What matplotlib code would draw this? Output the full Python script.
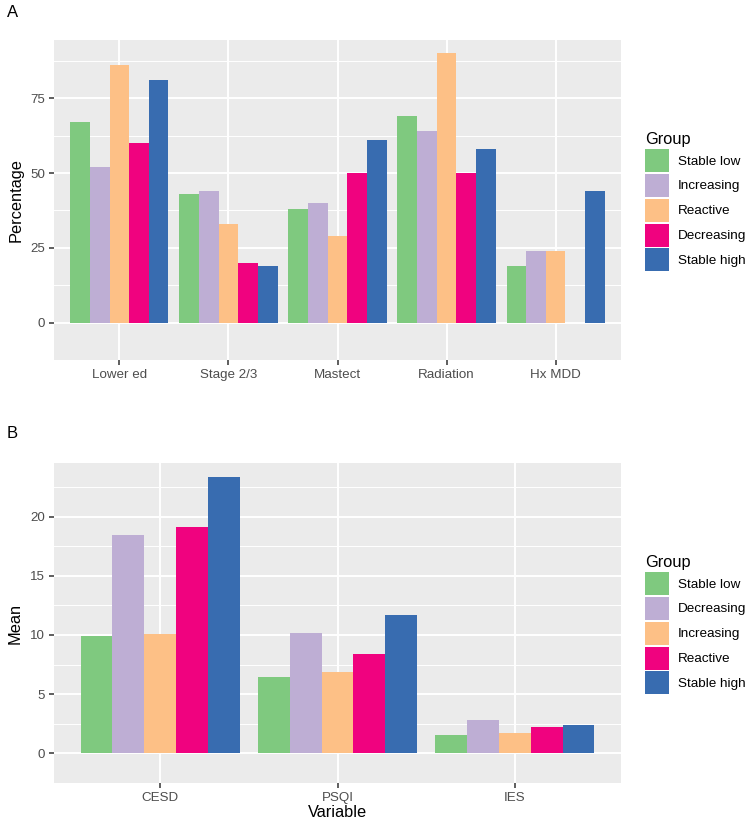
import numpy as np
import matplotlib.pyplot as plt
from matplotlib.patches import Patch

plt.rcParams['font.family'] = ['Liberation Sans', 'DejaVu Sans']

# --- Panel A data: percentage by group ---
a_categories = ['Lower ed', 'Stage 2/3', 'Mastect', 'Radiation', 'Hx MDD']
a_groups = ['Stable low', 'Increasing', 'Reactive', 'Decreasing', 'Stable high']
a_stable_low = [67, 43, 38, 69, 19]
a_increasing = [52, 44, 40, 64, 24]
a_reactive = [86, 33, 29, 90, 24]
a_decreasing = [60, 20, 50, 50, 0]
a_stable_high = [81, 19, 61, 58, 44]
a_yticks = [0, 25, 50, 75]

# --- Panel B data: mean by group ---
b_categories = ['CESD', 'PSQI', 'IES']
b_groups = ['Stable low', 'Decreasing', 'Increasing', 'Reactive', 'Stable high']
b_stable_low = [9.9, 6.45, 1.57]
b_decreasing = [18.4, 10.15, 2.8]
b_increasing = [10.05, 6.85, 1.75]
b_reactive = [19.1, 8.35, 2.2]
b_stable_high = [23.35, 11.65, 2.37]
b_yticks = [0, 5, 10, 15, 20]

colors = ['#7FC97F', '#BEAED4', '#FDC086', '#F0027F', '#386CB0']

W, H = 750, 825
fig = plt.figure(figsize=(W / 100, H / 100), dpi=100)


def px_axes(left, top, right, bottom):
    return fig.add_axes([left / W, 1 - bottom / H, (right - left) / W, (bottom - top) / H])


def gg_bars(ax, categories, series, yticks, ylabel, xlabel=None):
    n = len(series)
    x = np.arange(1, len(categories) + 1)
    width = 0.9 / n
    for i, vals in enumerate(series):
        ax.bar(x - 0.45 + width * (i + 0.5), vals, width=width, color=colors[i],
               linewidth=0, zorder=3)
    ymax = max(max(s) for s in series)
    ax.set_ylim(-0.05 * ymax, 1.05 * ymax)
    ax.set_xlim(0.4, len(categories) + 0.6)
    ax.set_facecolor('#EBEBEB')
    ax.set_xticks(x)
    ax.set_xticklabels(categories)
    ax.set_yticks(yticks)
    step = yticks[1] - yticks[0]
    minor = [t + step / 2 for t in yticks] + [yticks[0] - step / 2]
    ax.set_yticks(minor, minor=True)
    ax.grid(True, which='major', color='white', linewidth=1.4, zorder=1)
    ax.grid(True, which='minor', axis='y', color='white', linewidth=0.7, zorder=1)
    ax.set_axisbelow(True)
    for s in ax.spines.values():
        s.set_visible(False)
    ax.tick_params(which='major', length=3.5, width=1.1, color='#333333',
                   labelsize=9.6, labelcolor='#4D4D4D', pad=3)
    ax.tick_params(which='minor', length=0)
    ax.set_ylabel(ylabel, fontsize=11.8, labelpad=5)
    if xlabel:
        ax.set_xlabel(xlabel, fontsize=11.8, labelpad=1)


def gg_legend(groups, x, y):
    handles = [Patch(facecolor=c, edgecolor='none') for c in colors]
    leg = fig.legend(handles, groups, title='Group', loc='upper left',
                     bbox_to_anchor=(x / W, 1 - y / H), frameon=False,
                     fontsize=9.7, title_fontsize=11.8, handlelength=1.78,
                     handleheight=2.25, handletextpad=0.65, labelspacing=0.14,
                     borderpad=0, borderaxespad=0, alignment='left')
    return leg


ax_a = px_axes(54, 40, 621, 360)
gg_bars(ax_a, a_categories,
        [a_stable_low, a_increasing, a_reactive, a_decreasing, a_stable_high],
        a_yticks, 'Percentage')
gg_legend(a_groups, 645, 132)

ax_b = px_axes(54, 463, 621, 783)
gg_bars(ax_b, b_categories,
        [b_stable_low, b_decreasing, b_increasing, b_reactive, b_stable_high],
        b_yticks, 'Mean', 'Variable')
gg_legend(b_groups, 645, 555)

fig.text(7 / W, 1 - 5 / H, 'A', fontsize=12, va='top', ha='left')
fig.text(7 / W, 1 - 426 / H, 'B', fontsize=12, va='top', ha='left')

fig.savefig('out.png', dpi=100)
